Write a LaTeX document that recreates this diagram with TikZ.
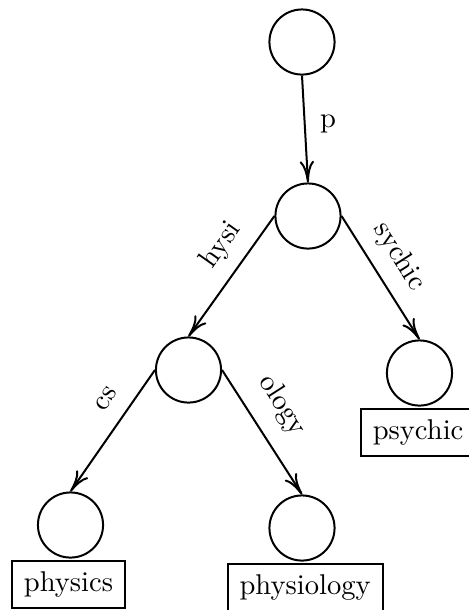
\documentclass[tikz,border=0pt]{standalone}
\usetikzlibrary{arrows.meta}
\begin{document}
\begin{tikzpicture}[x=0.35pt, y=-0.35pt,
  state/.style={draw, circle, line width=0.7pt, minimum size=22.8pt, inner sep=0pt},
  word/.style={draw, rectangle, line width=0.7pt, inner xsep=4.2pt, inner ysep=3.8pt, anchor=north},
  trans/.style={line width=0.7pt, -{To[length=7.5pt,width=5pt]}},
  lbl/.style={sloped, inner sep=3.33pt}]
  \useasboundingbox (0,0) rectangle (469,610);

  % trie states
  \node[state] (r)  at (302,42)    {};
  \node[state] (a)  at (308,216)   {};
  \node[state] (b)  at (188.5,370) {};
  \node[state] (c)  at (419.5,373) {};
  \node[state] (d)  at (70.5,525)  {};
  \node[state] (e)  at (302,528)   {};

  % stored words below the leaves
  \node[word] (wc) at ([xshift=-0.5pt, yshift=-0.35pt]c.south) {psychic};
  \node[word] (wd) at ([xshift=-0.7pt, yshift=-0.35pt]d.south) {physics};
  \node[word] (we) at ([xshift=1.1pt, yshift=-0.35pt]e.south) {physiology};

  % labelled transitions
  \draw[trans] (r.south) -- node[pos=.45, right=1.7pt, inner sep=3.33pt] {p} (a.north);
  \draw[trans] (a.west)  -- node[lbl, pos=.37, above=1pt] {hysi} (b.north);
  \draw[trans] (a.east)  -- node[lbl, pos=.445, above=1.2pt] {sychic} (c.north);
  \draw[trans] (b.west)  -- node[lbl, pos=.35, above=2.3pt] {cs} (d.north);
  \draw[trans] (b.east)  -- node[lbl, pos=.42, above=2.8pt] {ology} (e.north);
\end{tikzpicture}
\end{document}
